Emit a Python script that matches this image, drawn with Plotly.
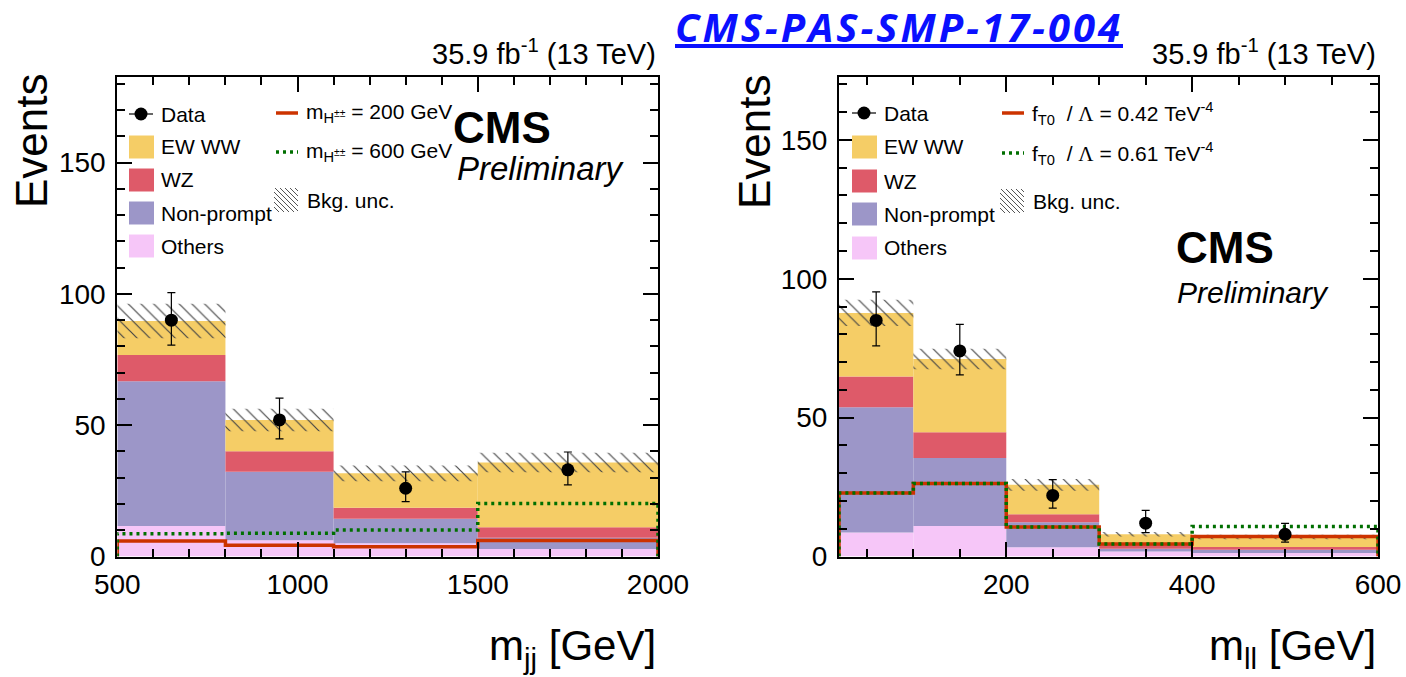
import numpy as np
import plotly.graph_objects as go
from plotly.subplots import make_subplots

# ---------------- m_jj distribution (same-sign WW, H++ search) ----------------
mjj_edges = [500, 800, 1100, 1500, 2000]
mjj_others = [11.6, 6.2, 5.0, 2.9]
mjj_nonprompt = [55.1, 26.1, 9.4, 4.2]
mjj_wz = [10.0, 7.8, 4.2, 4.0]
mjj_ewww = [13.0, 11.9, 13.1, 24.7]
mjj_bkg_unc = [6.6, 4.3, 3.0, 3.7]
mjj_data = [90, 52, 26, 33]
mjj_data_err_up = [10.5, 8.3, 6.2, 6.8]
mjj_data_err_down = [9.5, 7.2, 5.1, 5.7]
mjj_hpp200 = [5.9, 4.3, 3.7, 6.1]
mjj_hpp600 = [8.7, 8.9, 10.1, 20.2]

# ---------------- m_ll distribution (aQGC search) ----------------
mll_edges = [20, 100, 200, 300, 400, 600]
mll_others = [8.6, 11.0, 3.3, 1.8, 1.3]
mll_nonprompt = [45.1, 24.5, 9.0, 1.0, 1.1]
mll_wz = [11.1, 9.2, 2.9, 1.3, 1.0]
mll_ewww = [22.9, 26.4, 10.6, 3.9, 3.6]
mll_bkg_unc = [4.7, 3.7, 2.1, 0.8, 0.8]
mll_data = [85, 74, 22, 12, 8]
mll_data_err_up = [10.3, 9.6, 5.7, 4.6, 3.9]
mll_data_err_down = [9.2, 8.6, 4.6, 3.4, 2.8]
mll_ft0_042 = [22.9, 26.3, 10.6, 4.5, 7.2]
mll_ft0_061 = [22.9, 26.3, 10.6, 4.5, 10.8]

FONT = "Liberation Sans, Arial, Helvetica, sans-serif"
C_EWWW = "#f5cd66"
C_WZ = "#de5a69"
C_NP = "#9c96c8"
C_OTH = "#f6c6f8"
C_RED = "#cc3300"
C_GREEN = "#006f00"
GREEN_DASH = "3px,4px"

W, H = 1406, 677
fig = make_subplots(rows=1, cols=2)


def px(x):
    return x / W


def py(y):
    return 1 - y / H


def add_panel(col, edges, stack, unc, data, err_up, err_dn, signals):
    edges = np.asarray(edges, float)
    centers = 0.5 * (edges[:-1] + edges[1:])
    widths = edges[1:] - edges[:-1]
    base = np.zeros(len(centers))
    for vals, color in stack:
        vals = np.asarray(vals, float)
        fig.add_trace(go.Bar(x=centers, y=vals, base=base.copy(), width=widths,
                             marker=dict(color=color, line=dict(width=0)),
                             showlegend=False, hoverinfo="skip"), row=1, col=col)
        base = base + vals
    unc = np.asarray(unc, float)
    fig.add_trace(go.Bar(x=centers, y=2 * unc, base=base - unc, width=widths,
                         marker=dict(color="rgba(0,0,0,0)", line=dict(width=0),
                                     pattern=dict(shape="\\", fgcolor="#444444",
                                                  bgcolor="rgba(0,0,0,0)",
                                                  size=9, solidity=0.13,
                                                  fillmode="replace")),
                         showlegend=False, hoverinfo="skip"), row=1, col=col)
    for vals, color, dash, lw in signals:
        xs = [edges[0]] + list(edges[:-1]) + [edges[-1], edges[-1]]
        ys = [0] + list(vals) + [vals[-1], 0]
        fig.add_trace(go.Scatter(x=xs, y=ys, mode="lines", line_shape="hv",
                                 line=dict(color=color, width=lw, dash=dash),
                                 showlegend=False, hoverinfo="skip"), row=1, col=col)
    fig.add_trace(go.Scatter(x=centers, y=data, mode="markers",
                             marker=dict(color="black", size=13),
                             error_y=dict(type="data", symmetric=False, array=err_up,
                                          arrayminus=err_dn, color="black",
                                          thickness=1.2, width=4),
                             showlegend=False, hoverinfo="skip"), row=1, col=col)


add_panel(1, mjj_edges,
          [(mjj_others, C_OTH), (mjj_nonprompt, C_NP), (mjj_wz, C_WZ), (mjj_ewww, C_EWWW)],
          mjj_bkg_unc, mjj_data, mjj_data_err_up, mjj_data_err_down,
          [(mjj_hpp200, C_RED, "solid", 3.5), (mjj_hpp600, C_GREEN, GREEN_DASH, 3.5)])

add_panel(2, mll_edges,
          [(mll_others, C_OTH), (mll_nonprompt, C_NP), (mll_wz, C_WZ), (mll_ewww, C_EWWW)],
          mll_bkg_unc, mll_data, mll_data_err_up, mll_data_err_down,
          [(mll_ft0_042, C_RED, "solid", 3.5), (mll_ft0_061, C_GREEN, GREEN_DASH, 3.5)])

axis_common = dict(showline=True, linecolor="black", linewidth=2, mirror="allticks",
                   ticks="inside", ticklen=15, tickwidth=1.5, tickcolor="black",
                   showgrid=False, zeroline=False, automargin=False,
                   tickfont=dict(family=FONT, size=28, color="black"))
minor_common = dict(ticks="inside", ticklen=8, tickwidth=1.5, tickcolor="black", showgrid=False)

y_dom = [py(556.5), py(76.5)]
fig.update_xaxes(axis_common, domain=[px(117.3), px(658)], range=[500, 2000],
                 tick0=500, dtick=500, ticklabelstandoff=2,
                 minor=dict(minor_common, dtick=100), row=1, col=1)
fig.update_xaxes(axis_common, domain=[px(839), px(1378)], range=[20, 600],
                 tick0=0, dtick=200, ticklabelstandoff=2,
                 minor=dict(minor_common, dtick=50), row=1, col=2)
fig.update_yaxes(axis_common, domain=y_dom, range=[0, 182.8], tick0=0, dtick=50,
                 ticklabelstandoff=4, minor=dict(minor_common, dtick=10), row=1, col=1)
fig.update_yaxes(axis_common, domain=y_dom, range=[0, 172.8], tick0=0, dtick=50,
                 ticklabelstandoff=4, minor=dict(minor_common, dtick=10), row=1, col=2)

shapes = []
annotations = []


def text(x, y, s, size=21, xanchor="left", yanchor="middle", **kw):
    annotations.append(dict(x=px(x), y=py(y), xref="paper", yref="paper", text=s,
                            showarrow=False, xanchor=xanchor, yanchor=yanchor,
                            font=dict(family=kw.pop("family", FONT), size=size,
                                      color=kw.pop("color", "black")), **kw))


def hatch_box(x0, y0, x1, y1, step=5):
    # diagonal "\" lines clipped to the key box
    w, h = x1 - x0, y1 - y0
    c = -h
    while c < w:
        pts = []
        for yy in (y0, y1):
            xx = x0 + c + (yy - y0)
            if x0 <= xx <= x1:
                pts.append((xx, yy))
        for xx in (x0, x1):
            yy = y0 + (xx - x0) - c
            if y0 <= yy <= y1:
                pts.append((xx, yy))
        if len(pts) >= 2:
            (ax, ay), (bx, by) = pts[0], pts[-1]
            if abs(ax - bx) > 0.5:
                shapes.append(dict(type="line", xref="paper", yref="paper",
                                   x0=px(ax), y0=py(ay), x1=px(bx), y1=py(by),
                                   line=dict(color="#555555", width=1)))
        c += step


def legend_block(x_key, rows_y, x_key2, sig_rows, sig_labels):
    # Data entry
    y = rows_y[0]
    shapes.append(dict(type="line", xref="paper", yref="paper",
                       x0=px(x_key), x1=px(x_key + 24), y0=py(y), y1=py(y),
                       line=dict(color="black", width=1.2)))
    shapes.append(dict(type="circle", xref="paper", yref="paper",
                       x0=px(x_key + 5.5), x1=px(x_key + 18.5), y0=py(y - 6.5), y1=py(y + 6.5),
                       fillcolor="black", line=dict(width=0)))
    text(x_key + 30, y, "Data")
    for (label, color), yc in zip([("EW WW", C_EWWW), ("WZ", C_WZ), ("Non-prompt", C_NP),
                                    ("Others", C_OTH)], rows_y[1:]):
        shapes.append(dict(type="rect", xref="paper", yref="paper",
                           x0=px(x_key), x1=px(x_key + 25), y0=py(yc + 11.5), y1=py(yc - 11.5),
                           fillcolor=color, line=dict(width=0)))
        text(x_key + 30, yc, label)
    # signal entries
    y_red, y_green, y_unc = sig_rows
    shapes.append(dict(type="line", xref="paper", yref="paper",
                       x0=px(x_key2 + 2), x1=px(x_key2 + 24), y0=py(y_red), y1=py(y_red),
                       line=dict(color=C_RED, width=3.5)))
    shapes.append(dict(type="line", xref="paper", yref="paper",
                       x0=px(x_key2 + 2), x1=px(x_key2 + 24), y0=py(y_green), y1=py(y_green),
                       line=dict(color=C_GREEN, width=3.5, dash=GREEN_DASH)))
    text(x_key2 + 30, y_red, sig_labels[0])
    text(x_key2 + 30, y_green, sig_labels[1])
    hatch_box(x_key2, y_unc - 12, x_key2 + 24, y_unc + 12)
    text(x_key2 + 31, y_unc, "Bkg. unc.")


legend_block(129, [114, 147, 180, 213, 246], 274, (113, 152, 200),
             ["m<sub>H<sup>±±</sup></sub> = 200 GeV", "m<sub>H<sup>±±</sup></sub> = 600 GeV"])
LAM = "<span style='font-family:Liberation Serif'>Λ</span>"
legend_block(852, [113, 147, 181, 214, 248], 1000, (113, 153, 201),
             ["f<sub>T0</sub>\u00a0\u00a0/\u00a0" + LAM + " = 0.42 TeV<sup>-4</sup>",
              "f<sub>T0</sub>\u00a0\u00a0/\u00a0" + LAM + " = 0.61 TeV<sup>-4</sup>"])

# CMS labels
text(451, 127, "<b>CMS</b>", size=44)
text(455, 168, "<i>Preliminary</i>", size=33)
text(1174, 247, "<b>CMS</b>", size=44)
text(1175, 292, "<i>Preliminary</i>", size=30)

# luminosity labels
text(658, 52, "35.9 fb<sup>-1</sup> (13 TeV)", size=29, xanchor="right")
text(1378, 52, "35.9 fb<sup>-1</sup> (13 TeV)", size=29, xanchor="right")

# axis titles
text(31, 141, "Events", size=44, xanchor="center", textangle=-90)
text(754, 141, "Events", size=44, xanchor="center", textangle=-90)
text(658, 648, "m<sub>jj</sub> [GeV]", size=42, xanchor="right")
text(1378, 648, "m<sub>ll</sub> [GeV]", size=42, xanchor="right")

# document reference
text(899, 26,
     "<span style='text-decoration:underline;letter-spacing:3px'><b><i>CMS-PAS-SMP-17-004</i></b></span>",
     size=40, xanchor="center", family="Open Sans, Lato, sans-serif", color="#0a10ff")

fig.update_layout(width=W, height=H, margin=dict(l=0, r=0, t=0, b=0, autoexpand=False),
                  paper_bgcolor="white", plot_bgcolor="white", barmode="overlay",
                  showlegend=False, shapes=shapes, annotations=annotations)

fig.write_html("out.html")
